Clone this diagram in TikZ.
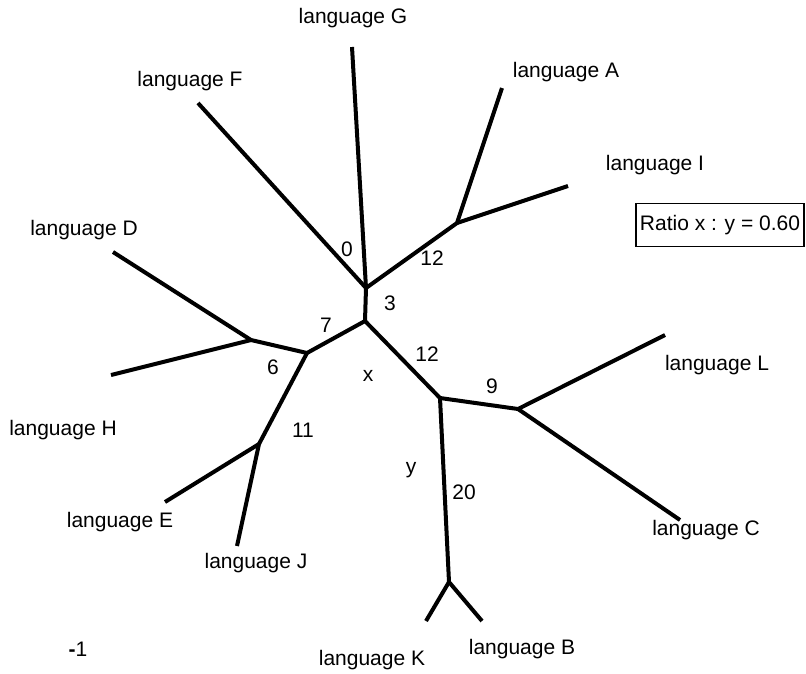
\documentclass[tikz,border=0pt]{standalone}
\usepackage{fontspec}
\setmainfont{Liberation Sans}
\begin{document}
\begin{tikzpicture}[x=1pt,y=-1pt,
  branch/.style={line width=4pt, line cap=butt, line join=round},
  lbl/.style={font=\fontsize{21}{25}\selectfont, inner sep=0pt},
  ratiobox/.style={draw, line width=1.8pt, font=\fontsize{21}{25}\selectfont,
    minimum width=168pt, minimum height=43pt, inner sep=0pt}]
\useasboundingbox (0,0) rectangle (806,673);

% internal nodes of the tree
\coordinate (j1)  at (366,288);
\coordinate (j2)  at (365,321);
\coordinate (jA)  at (457,223);
\coordinate (jH)  at (307,353);
\coordinate (jDH) at (251,340);
\coordinate (jEJ) at (259,444);
\coordinate (jX)  at (440,398);
\coordinate (jLC) at (518,409);
\coordinate (jKB) at (449,582);

% tips
\coordinate (tG) at (352,47);
\coordinate (tF) at (198,103);
\coordinate (tA) at (502,88);
\coordinate (tI) at (568,186);
\coordinate (tD) at (113,252);
\coordinate (tH) at (111,375);
\coordinate (tE) at (165,502);
\coordinate (tJ) at (237,546);
\coordinate (tL) at (665,335);
\coordinate (tC) at (680,520);
\coordinate (tK) at (426,621);
\coordinate (tB) at (482,621);

% branches
\draw[branch] (tF) -- (j1) -- (j2) -- (jX) -- (jKB) -- (tK);
\draw[branch] (tG) -- (j1) -- (jA) -- (tA);
\draw[branch] (jA) -- (tI);
\draw[branch] (j2) -- (jH) -- (jDH) -- (tD);
\draw[branch] (jDH) -- (tH);
\draw[branch] (jH) -- (jEJ) -- (tJ);
\draw[branch] (jEJ) -- (tE);
\draw[branch] (jX) -- (jLC) -- (tL);
\draw[branch] (jLC) -- (tC);
\draw[branch] (jKB) -- (tB);

% tip labels
\node[lbl] (nG) at (353,18)  {language G};
\node[lbl] (nF) at (190,81)  {language F};
\node[lbl] (nA) at (566,72)  {language A};
\node[lbl] (nI) at (655,165) {language I};
\node[lbl] (nD) at (84,230)  {language D};
\node[lbl] (nH) at (63,430)  {language H};
\node[lbl] (nE) at (120,522) {language E};
\node[lbl] (nJ) at (256,563) {language J};
\node[lbl] (nK) at (372,660) {language K};
\node[lbl] (nB) at (522,649) {language B};
\node[lbl] (nL) at (717,365) {language L};
\node[lbl] (nC) at (706,530) {language C};

% branch lengths and variables
\node[lbl] (b0)  at (347,249) {0};
\node[lbl] (b12a) at (432,258) {12};
\node[lbl] (b3)  at (390,303) {3};
\node[lbl] (b7)  at (326,325) {7};
\node[lbl] (b6)  at (273,367) {6};
\node[lbl] (b11) at (303,430) {11};
\node[lbl] (b12b) at (427,354) {12};
\node[lbl] (vx)  at (368,376) {x};
\node[lbl] (b9)  at (492,386) {9};
\node[lbl] (vy)  at (411,470) {y};
\node[lbl] (b20) at (464,492) {20};

\node[ratiobox] (ratio) at (720,225) {Ratio x : y = 0.60};
\node[lbl] (scale) at (78,649) {{\bfseries -}1};
\end{tikzpicture}
\end{document}
